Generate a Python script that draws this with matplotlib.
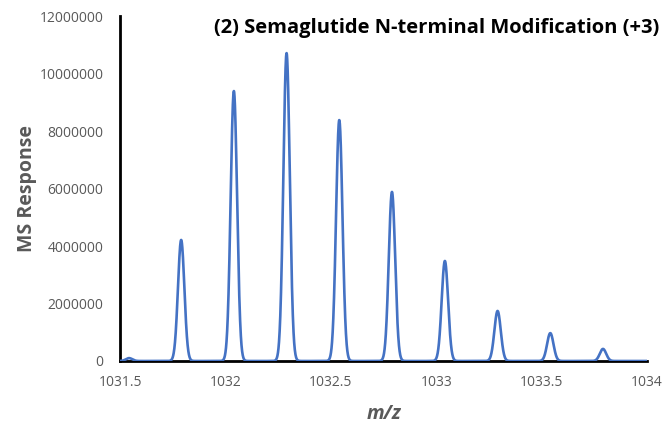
import matplotlib.pyplot as plt
import numpy as np

# isotope cluster of the +3 ion: centroid m/z and peak apex intensity
peak_mz = [1031.543, 1031.790, 1032.040, 1032.290, 1032.540,
           1032.790, 1033.041, 1033.291, 1033.541, 1033.791]
peak_height = [100000, 4210000, 9390000, 10710000, 8380000,
               5880000, 3480000, 1740000, 970000, 420000]
peak_sigma = 0.0152

y_ticks = [0, 2000000, 4000000, 6000000, 8000000, 10000000, 12000000]
x_ticks = [1031.5, 1032, 1032.5, 1033, 1033.5, 1034]

plt.rcParams['font.family'] = ['Open Sans', 'DejaVu Sans']

# profile spectrum built as a sum of gaussian peaks
mz = np.linspace(1031.5, 1034, 5000)
response = np.zeros_like(mz)
for c, h in zip(peak_mz, peak_height):
    response += h * np.exp(-0.5 * ((mz - c) / peak_sigma) ** 2)

fig = plt.figure(figsize=(6.65, 4.26), dpi=100)
ax = fig.add_axes([0.1805, 0.1526, 0.7925, 0.8098])

ax.plot(mz, response, color='#4472C4', lw=1.9, solid_capstyle='round', zorder=3)

ax.set_xlim(1031.5, 1034)
ax.set_ylim(0, 12000000)
ax.set_xticks(x_ticks)
ax.set_xticklabels(['1031.5', '1032', '1032.5', '1033', '1033.5', '1034'])
ax.set_yticks(y_ticks)
ax.set_yticklabels([str(v) for v in y_ticks])
ax.tick_params(length=0, labelsize=10, labelcolor='#595959', pad=12)
ax.tick_params(axis='x', pad=10)

for s in ['top', 'right']:
    ax.spines[s].set_visible(False)
for s in ['left', 'bottom']:
    ax.spines[s].set_linewidth(2)
    ax.spines[s].set_color('black')
ax.spines['bottom'].set_zorder(2)

ax.set_ylabel('MS Response', fontsize=14, fontweight='bold', color='#595959', labelpad=2)
ax.set_xlabel('m/z', fontsize=14, fontweight='bold', style='italic', color='#595959', labelpad=10)

fig.text(0.992, 0.935, '(2) Semaglutide N-terminal Modification (+3)',
         ha='right', va='center', fontsize=14.5, fontweight='bold', color='black')

fig.savefig('out.png', dpi=100)
